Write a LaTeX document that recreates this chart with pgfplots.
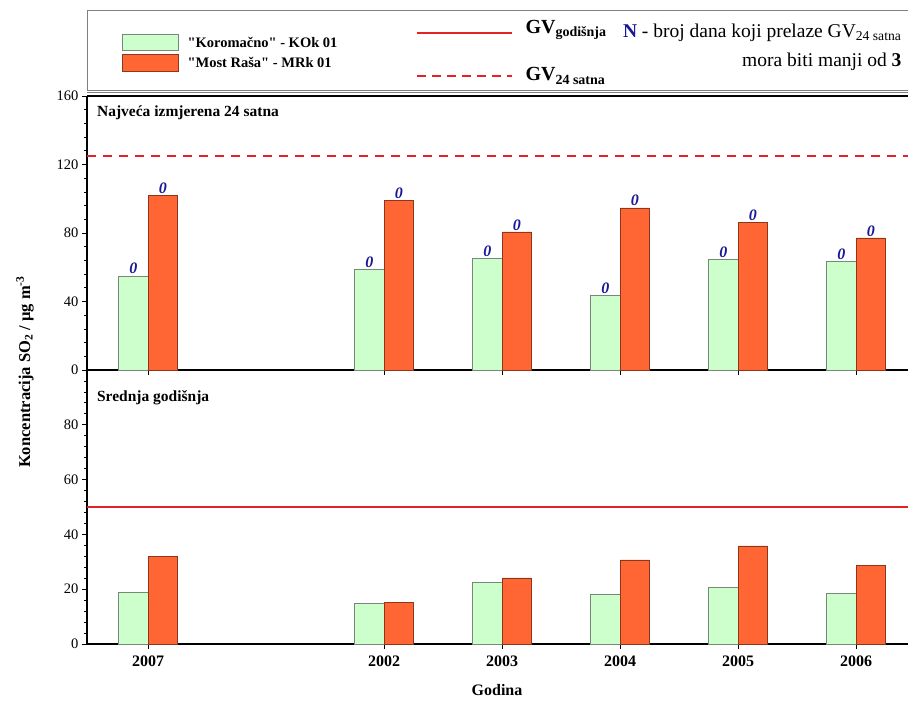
\documentclass[border=0pt]{standalone}
\usepackage{pgfplots}
\pgfplotsset{compat=1.18}
\usepackage{fontspec}
\setmainfont{Liberation Serif}[Ligatures=TeXOff]
\definecolor{gfill}{RGB}{204,255,204}
\definecolor{gedge}{RGB}{120,135,120}
\definecolor{ofill}{RGB}{255,102,51}
\definecolor{oedge}{RGB}{140,55,25}
\definecolor{gvred}{RGB}{228,34,40}
\definecolor{nblue}{RGB}{25,25,150}

\pgfplotsset{
 panel/.style={
  scale only axis, anchor=south west, width=821pt,
  xmin=-0.517, xmax=6.44,
  axis x line*=bottom, axis y line*=left,
  axis line style={line width=2pt},
  xtick={0,2,3,4,5,6},
  tick align=outside,
  ybar, bar width=0.25,
  minor y tick num=4,
  major tick length=5pt, minor tick length=3pt,
  tick style={black, line width=0.8pt},
  yticklabel style={font=\fontsize{14.5}{16}\selectfont},
  xticklabel style={font=\bfseries\fontsize{16}{18}\selectfont, yshift=-3pt},
  /pgf/number format/assume math mode=true,
  clip=false,
 },
 gbar/.style={fill=gfill, draw=gedge, line width=0.6pt, bar shift=-0.125},
 obar/.style={fill=ofill, draw=oedge, line width=0.6pt, bar shift=0.125},
 nlab/.style={nodes near coords={0}, nodes near coords style={font=\bfseries\itshape\fontsize{16}{18}\selectfont, text=nblue, anchor=south, inner sep=1.5pt}},
}

\begin{document}
\begin{tikzpicture}
% legend box
\draw[gray, line width=0.6pt] (87pt,-10pt) rectangle (912pt,-90pt);
\fill[gfill] (122pt,-34pt) rectangle (178pt,-50pt);
\draw[gedge, line width=0.6pt] (122pt,-34pt) rectangle (178pt,-50pt);
\fill[ofill] (122pt,-54pt) rectangle (178pt,-71pt);
\draw[oedge, line width=0.6pt] (122pt,-54pt) rectangle (178pt,-71pt);
\node[anchor=west, font=\bfseries\fontsize{14.5}{16}\selectfont] at (184pt,-42pt) {"Koromačno" - KOk 01};
\node[anchor=west, font=\bfseries\fontsize{14.5}{16}\selectfont] at (184pt,-62pt) {"Most Raša" - MRk 01};
\draw[gvred, line width=1.6pt] (417pt,-33pt) -- (512pt,-33pt);
\draw[gvred, line width=1.6pt, dash pattern=on 9pt off 6pt] (417pt,-76pt) -- (512pt,-76pt);
\node[anchor=west, font=\bfseries\fontsize{20}{22}\selectfont] at (522pt,-30pt) {GV\textsubscript{godišnja}};
\node[anchor=west, font=\bfseries\fontsize{20}{22}\selectfont] at (522pt,-76pt) {GV\textsubscript{24 satna}};
\node[anchor=east, font=\fontsize{19.5}{21}\selectfont] at (905pt,-33pt) {{\bfseries\color{nblue}N} - broj dana koji prelaze GV\textsubscript{24 satna}};
\node[anchor=east, font=\fontsize{19.5}{21}\selectfont] at (905pt,-62pt) {mora biti manji od \textbf{3}};

% top panel
\begin{axis}[panel, at={(87pt,-370pt)}, height=274pt,
  ymin=0, ymax=160, ytick={0,40,...,160}, xticklabels={}]
\addplot[gbar, nlab] coordinates {(0,55.0) (2,58.6) (3,65.0) (4,43.7) (5,64.4) (6,63.2)};
\addplot[obar, nlab] coordinates {(0,101.9) (2,99.2) (3,80.6) (4,94.7) (5,86.3) (6,77.1)};
\draw[gvred, line width=1.6pt, dash pattern=on 9pt off 7pt] (axis cs:-0.517,125) -- (axis cs:6.44,125);
\draw[gray, line width=0.6pt] (rel axis cs:0,1) ++(0pt,4pt) -- ([yshift=4pt]rel axis cs:1,1);
\draw[line width=2pt] (rel axis cs:0,1) -- (rel axis cs:1,1);
\node[anchor=west, font=\bfseries\fontsize{15.5}{17}\selectfont] at (rel axis cs:0.008,0.938) {Najveća izmjerena 24 satna};
\end{axis}

% bottom panel
\begin{axis}[panel, at={(87pt,-644pt)}, height=274pt,
  ymin=0, ymax=100, ytick={0,20,...,100}, yticklabels={0,20,40,60,80,{}},
  xticklabels={2007,2002,2003,2004,2005,2006}]
\addplot[gbar] coordinates {(0,18.9) (2,14.9) (3,22.4) (4,18.2) (5,20.7) (6,18.5)};
\addplot[obar] coordinates {(0,31.9) (2,15.1) (3,24.1) (4,30.7) (5,35.8) (6,28.7)};
\draw[gvred, line width=1.6pt] (axis cs:-0.517,50) -- (axis cs:6.44,50);
\node[anchor=west, font=\bfseries\fontsize{15.5}{17}\selectfont] at (rel axis cs:0.008,0.90) {Srednja godišnja};
\end{axis}

\node[rotate=90, font=\bfseries\fontsize{16.5}{18}\selectfont] at (25pt,-372pt) {Koncentracija SO\textsubscript{2} / µg m\textsuperscript{-3}};
\node[font=\bfseries\fontsize{16}{18}\selectfont] at (497pt,-690pt) {Godina};

\pgfresetboundingbox
\path (0,0) rectangle (908pt,-707pt);
\end{tikzpicture}
\end{document}
